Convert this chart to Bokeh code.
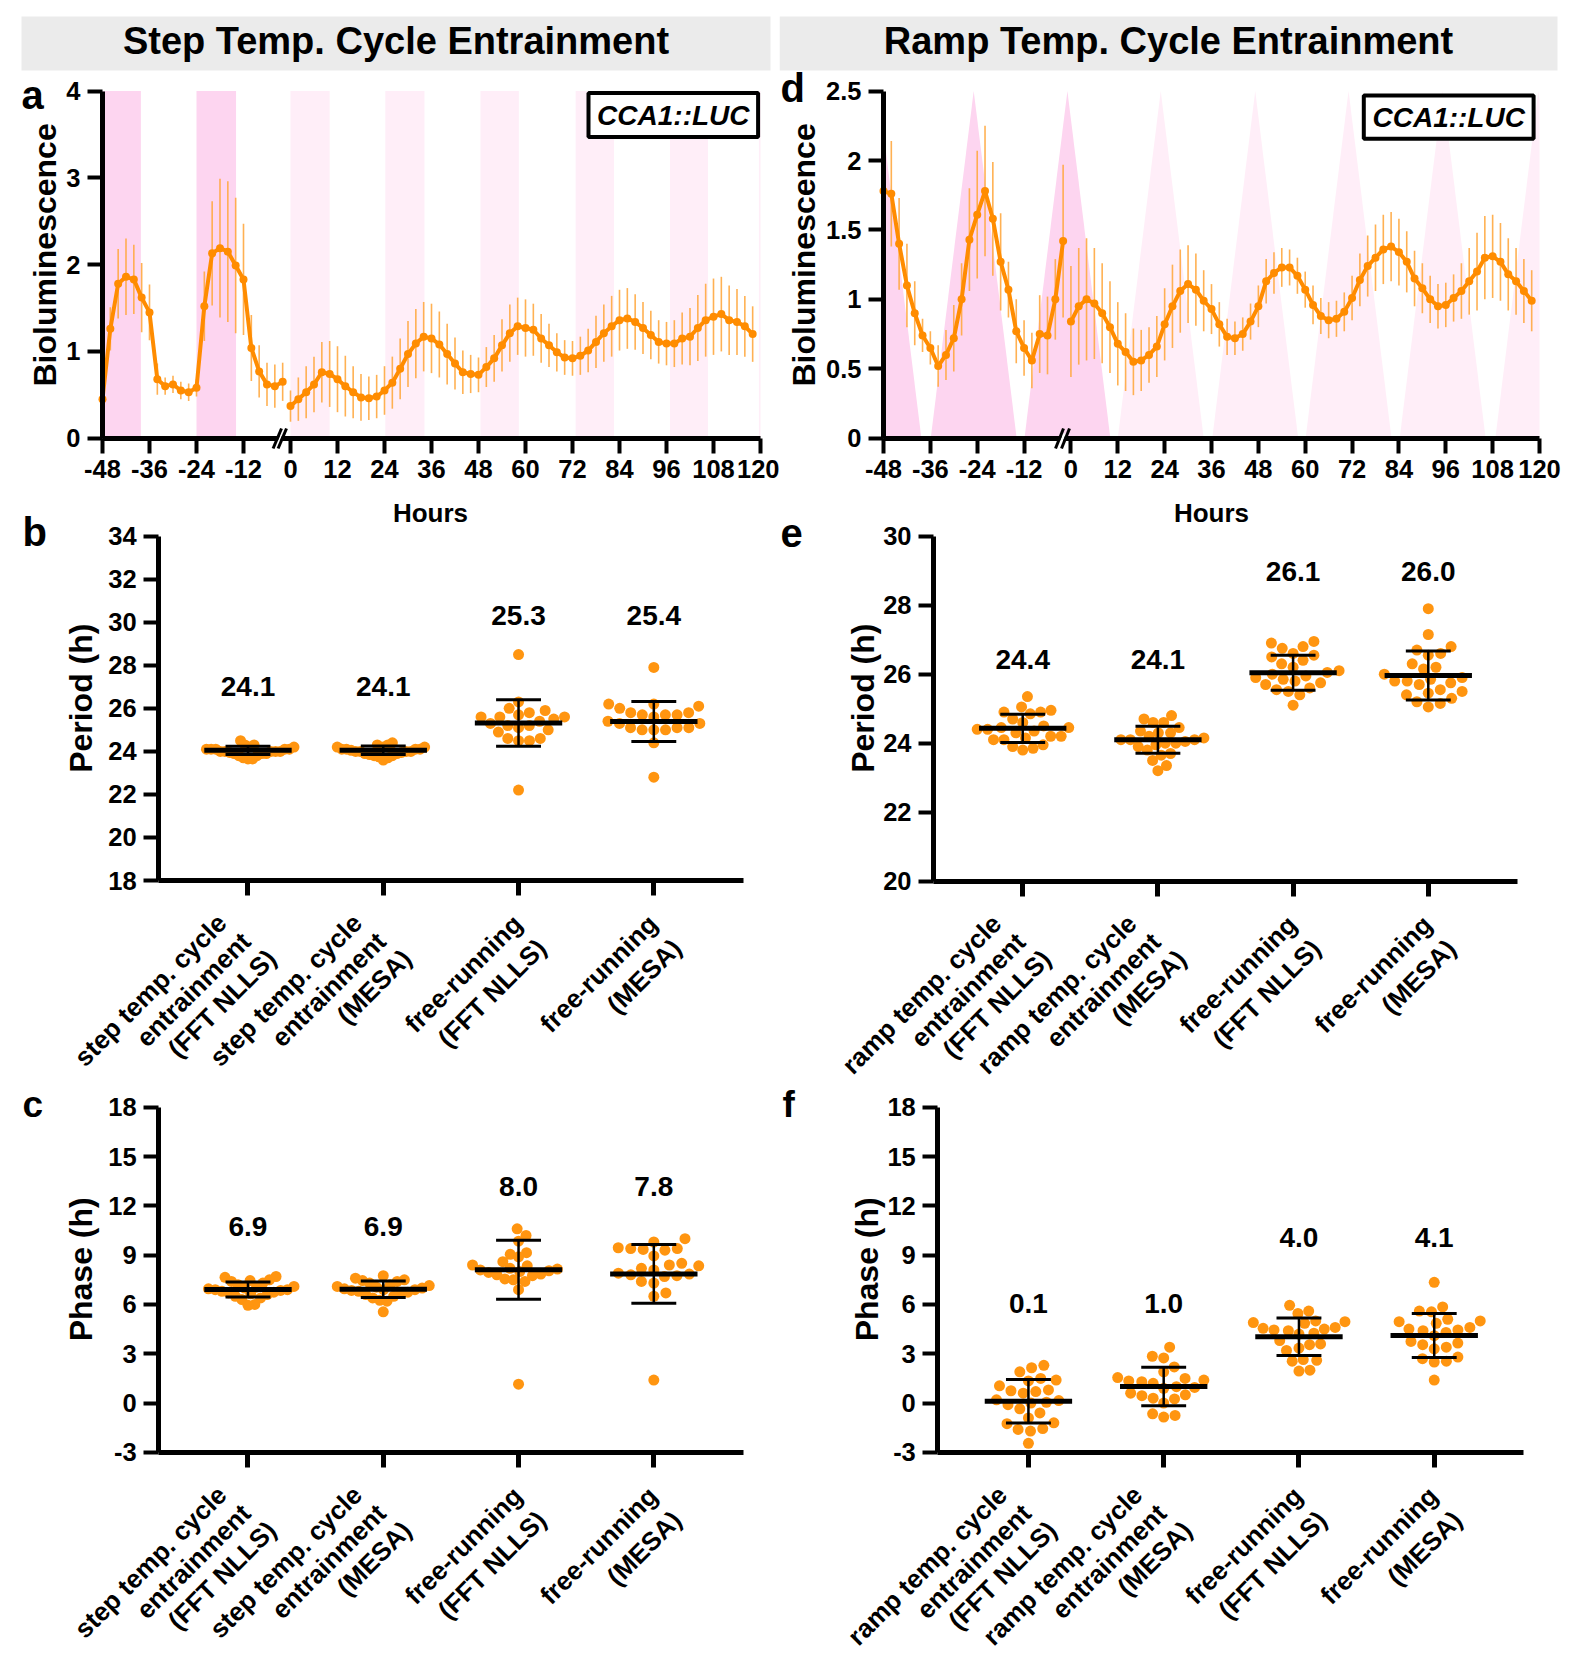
import math
from bokeh.plotting import figure
from bokeh.layouts import column, row
from bokeh.models import FixedTicker, Label, Arrow, PolyAnnotation, LinearAxis, Grid
from bokeh.core.properties import value
from bokeh.embed import file_html
from bokeh.resources import INLINE

FONT = "Liberation Sans"
ORANGE_LINE = "#FF8C00"
ORANGE_ERR = "#FFA940"
ORANGE_DOT = "#FF9510"
PINK = "#FDD5F0"
PINK_PALE = "#FFEEF8"
HEADER_BG = "#EBEBEB"

# ---------------- data: bioluminescence traces ----------------
hours_entrain = list(range(-48, 0, 2))
hours_free = list(range(0, 120, 2))

step_entrain_mean = [0.45, 1.26, 1.78, 1.86, 1.83, 1.62, 1.45, 0.68, 0.60, 0.62, 0.55, 0.53,
                     0.58, 1.52, 2.13, 2.19, 2.15, 1.99, 1.83, 1.04, 0.77, 0.62, 0.60, 0.65]
step_entrain_sd = [0.10, 0.25, 0.40, 0.44, 0.40, 0.40, 0.32, 0.18, 0.10, 0.10, 0.10, 0.10,
                   0.10, 0.40, 0.60, 0.80, 0.81, 0.78, 0.64, 0.38, 0.30, 0.25, 0.25, 0.22]
step_free_mean = [0.37, 0.45, 0.53, 0.62, 0.76, 0.74, 0.68, 0.60, 0.53, 0.47,
                  0.46, 0.48, 0.55, 0.64, 0.80, 0.97, 1.09, 1.17, 1.15, 1.08,
                  0.97, 0.86, 0.76, 0.74, 0.73, 0.82, 0.92, 1.07, 1.21, 1.29,
                  1.27, 1.25, 1.15, 1.07, 0.99, 0.93, 0.92, 0.95, 1.01, 1.11,
                  1.21, 1.29, 1.36, 1.38, 1.34, 1.27, 1.19, 1.11, 1.09, 1.09,
                  1.15, 1.17, 1.27, 1.36, 1.40, 1.43, 1.36, 1.34, 1.29, 1.20]
step_free_sd = [0.18, 0.25, 0.30, 0.32, 0.35, 0.38, 0.38, 0.35, 0.30, 0.27,
                0.25, 0.25, 0.28, 0.30, 0.35, 0.38, 0.40, 0.40, 0.40, 0.38,
                0.35, 0.30, 0.25, 0.22, 0.20, 0.23, 0.27, 0.30, 0.33, 0.33,
                0.33, 0.30, 0.28, 0.25, 0.22, 0.20, 0.20, 0.22, 0.25, 0.30,
                0.33, 0.35, 0.35, 0.35, 0.32, 0.30, 0.28, 0.25, 0.25, 0.27,
                0.30, 0.33, 0.38, 0.42, 0.44, 0.43, 0.40, 0.38, 0.35, 0.32]

ramp_entrain_mean = [1.78, 1.76, 1.40, 1.10, 0.90, 0.74, 0.65, 0.52, 0.60, 0.72, 1.00, 1.43,
                     1.61, 1.78, 1.58, 1.27, 1.07, 0.77, 0.65, 0.56, 0.75, 0.74, 1.00, 1.42]
ramp_entrain_sd = [0.38, 0.38, 0.33, 0.30, 0.23, 0.12, 0.12, 0.15, 0.18, 0.24, 0.26, 0.37,
                   0.46, 0.47, 0.41, 0.35, 0.20, 0.23, 0.20, 0.20, 0.28, 0.28, 0.29, 0.55]
ramp_free_mean = [0.84, 0.95, 1.00, 0.97, 0.90, 0.80, 0.68, 0.62, 0.55, 0.56,
                  0.60, 0.66, 0.82, 0.95, 1.06, 1.11, 1.07, 0.99, 0.93, 0.82,
                  0.73, 0.72, 0.75, 0.84, 0.95, 1.13, 1.19, 1.23, 1.23, 1.17,
                  1.07, 0.96, 0.88, 0.85, 0.86, 0.91, 1.01, 1.14, 1.24, 1.30,
                  1.36, 1.38, 1.34, 1.27, 1.15, 1.08, 1.00, 0.95, 0.96, 1.01,
                  1.06, 1.13, 1.20, 1.30, 1.31, 1.27, 1.18, 1.13, 1.06, 0.99]
ramp_free_sd = [0.40, 0.42, 0.44, 0.40, 0.36, 0.33, 0.30, 0.28, 0.24, 0.22,
                0.20, 0.22, 0.26, 0.30, 0.30, 0.28, 0.26, 0.22, 0.18, 0.16,
                0.13, 0.12, 0.12, 0.13, 0.15, 0.16, 0.15, 0.14, 0.13, 0.13,
                0.13, 0.14, 0.13, 0.13, 0.13, 0.14, 0.16, 0.19, 0.22, 0.24,
                0.25, 0.25, 0.24, 0.22, 0.20, 0.18, 0.17, 0.16, 0.16, 0.17,
                0.20, 0.24, 0.28, 0.30, 0.30, 0.28, 0.26, 0.24, 0.23, 0.22]

# warm phases (step) and temperature ramps (triangles)
step_warm_start = [-48.0, -24.0]
step_warm_end = [-38.2, -13.9]
step_free_warm_start = [0.0, 24.2, 48.5, 72.8, 96.9, 119.6]
step_free_warm_end = [10.0, 34.2, 58.3, 82.6, 106.6, 121.0]
ramp_entrain_peaks = [-49.3, -24.9, -0.9]
ramp_free_peaks = [23.0, 47.2, 71.1, 95.2, 119.7]
ramp_half_width = 11.0

hour_ticks = [-48, -36, -24, -12, 0, 12, 24, 36, 48, 60, 72, 84, 96, 108, 120]

# ---------------- data: period / phase ----------------
step_categories = [["step temp. cycle", "entrainment", "(FFT NLLS)"],
                   ["step temp. cycle", "entrainment", "(MESA)"],
                   ["free-running", "(FFT NLLS)"],
                   ["free-running", "(MESA)"]]
ramp_categories = [["ramp temp. cycle", "entrainment", "(FFT NLLS)"],
                   ["ramp temp. cycle", "entrainment", "(MESA)"],
                   ["free-running", "(FFT NLLS)"],
                   ["free-running", "(MESA)"]]

period_step = [
    [24.5, 24.3, 24.3, 24.2, 24.2, 24.1, 24.1, 24.1, 24.0, 24.0, 24.0, 24.0,
     23.95, 23.9, 23.9, 23.9, 23.8, 23.8, 23.7, 23.65, 23.65, 24.1, 24.0, 24.1],
    [24.4, 24.3, 24.3, 24.2, 24.2, 24.1, 24.1, 24.1, 24.0, 24.0, 24.0, 23.95,
     23.9, 23.9, 23.85, 23.8, 23.8, 23.75, 23.7, 23.6, 24.05, 24.1, 24.0, 24.2],
    [28.5, 26.3, 25.9, 26.0, 25.8, 25.6, 25.7, 25.6, 25.6, 25.5, 25.4, 25.3,
     25.2, 25.2, 25.1, 25.0, 24.9, 24.6, 24.6, 24.5, 24.5, 22.2],
    [27.9, 26.2, 26.1, 26.2, 26.0, 25.8, 25.7, 25.7, 25.8, 25.7, 25.6, 25.4,
     25.3, 25.3, 25.1, 25.0, 25.1, 25.1, 25.0, 25.0, 24.4, 22.8],
]
period_step_mean = [24.05, 24.05, 25.32, 25.39]
period_step_sd = [0.19, 0.20, 1.08, 0.93]
period_step_text = ["24.1", "24.1", "25.3", "25.4"]

period_ramp = [
    [25.35, 25.05, 24.95, 24.9, 24.9, 24.85, 24.7, 24.6, 24.5, 24.45, 24.45, 24.4,
     24.4, 24.35, 24.3, 24.2, 24.2, 24.15, 24.1, 24.1, 23.95, 23.9, 23.85, 23.8],
    [24.8, 24.7, 24.6, 24.6, 24.45, 24.35, 24.3, 24.3, 24.2, 24.15, 24.1, 24.1,
     24.1, 24.05, 24.0, 24.0, 23.95, 23.9, 23.8, 23.7, 23.65, 23.5, 23.35, 23.2],
    [26.95, 26.9, 26.8, 26.75, 26.6, 26.55, 26.5, 26.4, 26.3, 26.2, 26.1, 26.05,
     26.0, 25.95, 25.9, 25.85, 25.8, 25.75, 25.7, 25.6, 25.55, 25.5, 25.4, 25.1],
    [27.9, 27.15, 26.8, 26.7, 26.6, 26.55, 26.3, 26.2, 26.15, 26.0, 25.9, 25.85,
     25.8, 25.8, 25.75, 25.7, 25.55, 25.5, 25.45, 25.4, 25.3, 25.2, 25.15, 25.05],
]
period_ramp_mean = [24.43, 24.10, 26.04, 25.96]
period_ramp_sd = [0.41, 0.39, 0.51, 0.71]
period_ramp_text = ["24.4", "24.1", "26.1", "26.0"]

phase_step = [
    [7.7, 7.65, 7.5, 7.45, 7.4, 7.3, 7.2, 7.1, 7.05, 7.0, 6.95, 6.9,
     6.9, 6.85, 6.8, 6.75, 6.7, 6.65, 6.6, 6.5, 6.4, 6.3, 6.0, 5.95],
    [7.75, 7.6, 7.5, 7.45, 7.4, 7.3, 7.2, 7.15, 7.1, 7.05, 7.0, 6.95,
     6.9, 6.9, 6.85, 6.8, 6.75, 6.7, 6.6, 6.5, 6.4, 6.25, 6.2, 5.55],
    [10.6, 10.2, 9.85, 9.15, 9.05, 8.9, 8.6, 8.4, 8.35, 8.2, 8.15, 8.1,
     8.05, 8.0, 7.95, 7.85, 7.8, 7.75, 7.55, 7.5, 7.4, 6.9, 1.15],
    [10.0, 9.8, 9.45, 9.4, 9.35, 9.4, 9.3, 8.95, 8.5, 8.4, 8.35, 8.2,
     8.1, 7.9, 7.8, 7.85, 7.75, 7.7, 7.4, 7.3, 6.7, 6.5, 1.4],
]
phase_step_mean = [6.91, 6.93, 8.11, 7.86]
phase_step_sd = [0.45, 0.50, 1.80, 1.78]
phase_step_text = ["6.9", "6.9", "8.0", "7.8"]

phase_ramp = [
    [2.3, 2.15, 1.9, 1.5, 1.4, 1.35, 1.05, 0.8, 0.75, 0.7, 0.6, 0.2, 0.15,
     0.05, 0.0, -0.1, -0.35, -0.6, -0.9, -1.2, -1.25, -1.55, -1.7, -1.6, -2.45],
    [3.4, 2.85, 2.75, 2.2, 1.9, 1.55, 1.5, 1.4, 1.35, 1.3, 1.2, 1.0,
     0.95, 0.9, 0.6, 0.5, 0.45, 0.3, 0.25, 0.0, -0.65, -0.75, -0.85],
    [5.95, 5.6, 5.45, 5.0, 4.95, 4.9, 4.85, 4.6, 4.55, 4.5, 4.45, 4.4,
     4.25, 4.2, 3.8, 3.6, 3.55, 3.35, 3.2, 2.65, 2.6, 2.55, 2.0, 1.95],
    [7.35, 5.85, 5.6, 5.55, 5.1, 5.0, 4.95, 4.85, 4.6, 4.5, 4.45, 4.4,
     4.3, 4.1, 3.75, 3.65, 3.55, 3.4, 3.3, 2.8, 2.7, 2.55, 2.5, 1.4],
]
phase_ramp_mean = [0.11, 1.01, 4.04, 4.11]
phase_ramp_sd = [1.32, 1.17, 1.14, 1.34]
phase_ramp_text = ["0.1", "1.0", "4.0", "4.1"]

# label heights (baseline, data units)
period_step_text_y = [26.55, 26.55, 29.83, 29.83]
period_ramp_text_y = [26.11, 26.11, 28.67, 28.67]
phase_step_text_y = [10.09, 10.09, 12.55, 12.55]
phase_ramp_text_y = [5.43, 5.43, 9.42, 9.42]


# ---------------- helpers ----------------
def style_axis(ax):
    ax.axis_line_width = 5
    ax.axis_line_color = "black"
    ax.major_tick_line_width = 4
    ax.major_tick_line_color = "black"
    ax.major_tick_out = 15
    ax.major_tick_in = 0
    ax.minor_tick_line_color = None
    ax.major_label_text_font = FONT
    ax.major_label_text_font_style = "bold"
    ax.major_label_text_font_size = "25.5px"
    ax.major_label_text_color = "black"
    ax.major_label_standoff = 7


class Panel:
    """A figure whose frame fills its canvas; the plotted data box is placed
    at given page pixels and the axes are drawn at fixed locations."""

    def __init__(self, canvas, xmap, ymap, xticks, yticks):
        cx0, cy0, w, h = canvas
        (px0, dx0), (px1, dx1) = xmap
        (py0, dy0), (py1, dy1) = ymap
        self.px0, self.dx0, self.py0, self.dy0 = px0, dx0, py0, dy0
        self.sx = (dx1 - dx0) / (px1 - px0)
        self.sy = (dy1 - dy0) / (py0 - py1)
        self.xppu = 1.0 / self.sx
        self.yppu = 1.0 / self.sy
        self.xlim = (dx0, dx1)
        self.ylim = (dy0, dy1)
        xr = (dx0 - (px0 - cx0) * self.sx, dx0 + (cx0 + w - px0) * self.sx)
        yr = (dy0 - (cy0 + h - py0) * self.sy, dy0 + (py0 - cy0) * self.sy)
        p = figure(width=w, height=h, x_range=xr, y_range=yr,
                   x_axis_location=None, y_axis_location=None,
                   output_backend="svg", toolbar_location=None, title=None)
        p.min_border_left = p.min_border_right = p.min_border_top = p.min_border_bottom = 0
        p.outline_line_color = None
        p.background_fill_color = "white"
        p.border_fill_color = "white"
        p.center = [r for r in p.center if not isinstance(r, Grid)]
        xa = LinearAxis(fixed_location=dy0, bounds=(dx0, dx1), ticker=FixedTicker(ticks=xticks))
        ya = LinearAxis(fixed_location=dx0, bounds=(dy0, dy1), ticker=FixedTicker(ticks=yticks))
        style_axis(xa)
        style_axis(ya)
        xa.major_label_overrides = {t: str(t) for t in xticks if t < 0}
        ya.major_label_overrides = {t: str(t) for t in yticks if t < 0}
        p.add_layout(xa, "below")
        p.add_layout(ya, "left")
        self.xa, self.ya, self.p = xa, ya, p

    def X(self, px):
        return self.dx0 + (px - self.px0) * self.sx

    def Y(self, py):
        return self.dy0 + (self.py0 - py) * self.sy

    def label(self, px, py, text, size, align="left", baseline="alphabetic", angle=0.0,
              style="bold"):
        self.p.add_layout(Label(x=self.X(px), y=self.Y(py), text=text, angle=angle,
                                text_align=align, text_baseline=baseline, text_font=FONT,
                                text_font_style=style, text_font_size=size,
                                text_color="black"))

    def header(self, left, right, top, bottom, text):
        self.p.quad(left=[self.X(left)], right=[self.X(right)], top=[self.Y(top)],
                    bottom=[self.Y(bottom)], fill_color=HEADER_BG, line_color=None)
        self.p.text(x=[self.X((left + right) / 2.0)], y=[self.Y(40.5)], text=[text],
                    text_font=value(FONT), text_font_style="bold", text_font_size="38px",
                    text_align="center", text_baseline="middle", text_color="black")


def clip_poly(xs, ys, xmin, xmax):
    pts = list(zip(xs, ys))
    for bound, keep in ((xmin, lambda x: x >= xmin), (xmax, lambda x: x <= xmax)):
        out = []
        for i in range(len(pts)):
            a, b = pts[i - 1], pts[i]
            ina, inb = keep(a[0]), keep(b[0])
            if inb:
                if not ina:
                    t = (bound - a[0]) / (b[0] - a[0])
                    out.append((bound, a[1] + t * (b[1] - a[1])))
                out.append(b)
            elif ina:
                t = (bound - a[0]) / (b[0] - a[0])
                out.append((bound, a[1] + t * (b[1] - a[1])))
        pts = out
    return [q[0] for q in pts], [q[1] for q in pts]


def add_traces(p, entrain_m, entrain_sd, free_m, free_sd):
    for hs, ms, sds in ((hours_entrain, entrain_m, entrain_sd), (hours_free, free_m, free_sd)):
        p.segment(x0=hs, x1=hs, y0=[m - s for m, s in zip(ms, sds)],
                  y1=[m + s for m, s in zip(ms, sds)], line_color=ORANGE_ERR,
                  line_width=1.6, line_alpha=0.9)
        p.line(hs, ms, line_color=ORANGE_LINE, line_width=4)
        p.scatter(hs, ms, size=8, fill_color=ORANGE_LINE, line_color=None)


def add_reporter_box(P, box, center):
    l, r, t, b = box
    P.p.quad(left=[P.X(l)], right=[P.X(r)], top=[P.Y(t)], bottom=[P.Y(b)],
             fill_color="white", line_color="black", line_width=4)
    P.p.text(x=[P.X(center[0])], y=[P.Y(center[1])], text=["CCA1::LUC"],
             text_font=value(FONT), text_font_style="bold italic", text_font_size="28px",
             text_align="center", text_baseline="middle", text_color="black")


def add_break(P, s1, s2):
    # s = (x_bottom, x_top) page pixels; marks span page y 448 -> 428
    yb, yt = P.Y(448), P.Y(428)
    gb, gt = P.Y(443), P.Y(433)
    fx = lambda s, yy: s[0] + (s[1] - s[0]) * (448 - yy) / 20.0
    P.p.add_layout(PolyAnnotation(
        xs=[P.X(fx(s1, 443) + 1.5), P.X(fx(s2, 443) - 1.5), P.X(fx(s2, 433) - 1.5),
            P.X(fx(s1, 433) + 1.5)],
        ys=[gb, gb, gt, gt], fill_color="white", fill_alpha=1.0, line_color=None,
        level="overlay"))
    for s in (s1, s2):
        P.p.add_layout(Arrow(end=None, x_start=P.X(s[0]), y_start=yb, x_end=P.X(s[1]),
                             y_end=yt, line_width=3, line_color="black", level="overlay"))


def swarm(vals, ppu, d, maxw):
    order = sorted(range(len(vals)), key=lambda i: vals[i])
    placed = []
    xs = [0.0] * len(vals)
    for i in order:
        y = vals[i] * ppu
        cands = [0.0]
        for (px, py) in placed:
            dy = y - py
            if abs(dy) < d:
                dx = math.sqrt(d * d - dy * dy)
                cands += [px + dx, px - dx]
        cands.sort(key=abs)
        chosen = 0.0
        for c in cands:
            if all((c - px) ** 2 + (y - py) ** 2 >= d * d - 1e-6 for px, py in placed):
                chosen = c
                break
        xs[i] = chosen
        placed.append((chosen, y))
    m = max(abs(x) for x in xs) if xs else 0
    if m > maxw:
        xs = [x * maxw / m for x in xs]
    return xs


# right ends of the rotated category label lines, page px from (tick x, axis y)
CAT_ANCHORS = {3: [(-26.0, 38.0), (-2.0, 56.4), (23.5, 73.4)],
               2: [(-1.0, 39.0), (23.0, 63.0)]}


def dot_panel(canvas, xmap, ymap, yticks, groups, means, sds, texts, text_y, cats):
    P = Panel(canvas, xmap, ymap, [1, 2, 3, 4], yticks)
    p = P.p
    P.xa.major_label_overrides = {1: "", 2: "", 3: "", 4: ""}
    P.xa.major_tick_line_width = 5
    for k, vals in enumerate(groups, start=1):
        offs = swarm(vals, P.yppu, 12.5, 46.0)
        p.scatter([k + o / P.xppu for o in offs], vals, size=11, fill_color=ORANGE_DOT,
                  line_color=None)
    cx = [1, 2, 3, 4]
    p.segment(x0=[c - 0.323 for c in cx], x1=[c + 0.323 for c in cx], y0=means, y1=means,
              line_color="black", line_width=5)
    p.segment(x0=cx, x1=cx, y0=[m - s for m, s in zip(means, sds)],
              y1=[m + s for m, s in zip(means, sds)], line_color="black", line_width=2.5)
    for sign in (1, -1):
        ys = [m + sign * s for m, s in zip(means, sds)]
        p.segment(x0=[c - 0.166 for c in cx], x1=[c + 0.166 for c in cx], y0=ys, y1=ys,
                  line_color="black", line_width=3)
    lift = 10.5 / P.yppu
    p.text(x=cx, y=[t + lift for t in text_y], text=texts, text_font=value(FONT),
           text_font_style="bold", text_font_size="28px", text_align="center",
           text_baseline="alphabetic", text_color="black")
    for k, lines in enumerate(cats, start=1):
        for (dx, dy), t in zip(CAT_ANCHORS[len(lines)], lines):
            p.add_layout(Label(x=k, y=P.ylim[0], x_offset=dx, y_offset=-dy, text=t,
                               angle=math.pi / 4, text_align="right", text_baseline="middle",
                               text_font=FONT, text_font_style="bold",
                               text_font_size="26px", text_color="black"))
    return P


# ---------------- panel a (with the left header) ----------------
A = Panel((0, 0, 779, 495), ((102, -48), (760, 120)), ((437.7, 0), (90.6, 4)),
          hour_ticks, [0, 1, 2, 3, 4])
A.header(21, 770, 16, 70, "Step Temp. Cycle Entrainment")
A.p.quad(left=step_warm_start, right=step_warm_end, bottom=0, top=4, fill_color=PINK,
         line_color=None)
A.p.quad(left=step_free_warm_start, right=[min(e, 120) for e in step_free_warm_end],
         bottom=0, top=4, fill_color=PINK_PALE, line_color=None)
add_traces(A.p, step_entrain_mean, step_entrain_sd, step_free_mean, step_free_sd)
add_reporter_box(A, (588, 757.6, 92.6, 136.6), (672.8, 114.6))
add_break(A, (272.6, 281.0), (277.6, 286.0))
A.label(44, 254.4, "Bioluminescence", "32px", align="center", angle=math.pi / 2)
A.label(21, 94, "a", "40px")

# ---------------- panel d (with the right header) ----------------
D = Panel((779, 0, 815, 495), ((883, -48), (1539, 120)), ((437.7, 0), (90.6, 2.5)),
          hour_ticks, [0, 0.5, 1, 1.5, 2, 2.5])
D.header(779, 1557, 16, 70, "Ramp Temp. Cycle Entrainment")
D.ya.major_label_overrides = {0: "0"}
for peaks, col in ((ramp_entrain_peaks, PINK), (ramp_free_peaks, PINK_PALE)):
    txs, tys = [], []
    for pk in peaks:
        cxs, cys = clip_poly([pk - ramp_half_width, pk, pk + ramp_half_width], [0, 2.5, 0],
                             -48, 120)
        txs.append(cxs)
        tys.append(cys)
    D.p.patches(xs=txs, ys=tys, fill_color=col, line_color=None)
add_traces(D.p, ramp_entrain_mean, ramp_entrain_sd, ramp_free_mean, ramp_free_sd)
add_reporter_box(D, (1363.3, 1533.1, 95, 138.3), (1448.2, 116.6))
add_break(D, (1055.0, 1063.0), (1061.0, 1069.0))
D.label(803, 254.4, "Bioluminescence", "32px", align="center", angle=math.pi / 2)
D.label(780, 87, "d", "40px")

# ---------------- panels b, e ----------------
B = dot_panel((0, 495, 779, 585), ((158.2, 0.34), (742.6, 4.66)), ((880, 18), (535.7, 34)),
              list(range(18, 35, 2)), period_step, period_step_mean, period_step_sd,
              period_step_text, period_step_text_y, step_categories)
B.label(80, 697.7, "Period (h)", "32px", align="center", angle=math.pi / 2)
B.label(430, 512, "Hours", "26px", align="center")
B.label(22, 531, "b", "40px")

E = dot_panel((779, 495, 815, 585), ((933, 0.34), (1517, 4.66)), ((880.6, 20), (535.7, 30)),
              list(range(20, 31, 2)), period_ramp, period_ramp_mean, period_ramp_sd,
              period_ramp_text, period_ramp_text_y, ramp_categories)
E.label(862, 697.7, "Period (h)", "32px", align="center", angle=math.pi / 2)
E.label(1211, 512, "Hours", "26px", align="center")
E.label(780, 532, "e", "40px")

# ---------------- panels c, f ----------------
C = dot_panel((0, 1080, 779, 594), ((158.2, 0.34), (742.6, 4.66)), ((1451.9, -3), (1106.7, 18)),
              list(range(-3, 19, 3)), phase_step, phase_step_mean, phase_step_sd,
              phase_step_text, phase_step_text_y, step_categories)
C.label(80, 1268.8, "Phase (h)", "32px", align="center", angle=math.pi / 2)
C.label(22, 1104, "c", "37px")

F = dot_panel((779, 1080, 815, 594), ((937.3, 0.33), (1523, 4.66)), ((1451.9, -3), (1106.7, 18)),
              list(range(-3, 19, 3)), phase_ramp, phase_ramp_mean, phase_ramp_sd,
              phase_ramp_text, phase_ramp_text_y, ramp_categories)
F.label(866, 1268.8, "Phase (h)", "32px", align="center", angle=math.pi / 2)
F.label(782, 1104, "f", "37px")

layout = column(row(A.p, D.p, spacing=0), row(B.p, E.p, spacing=0),
                row(C.p, F.p, spacing=0), spacing=0)

open("out.html", "w").write(file_html(layout, INLINE))
